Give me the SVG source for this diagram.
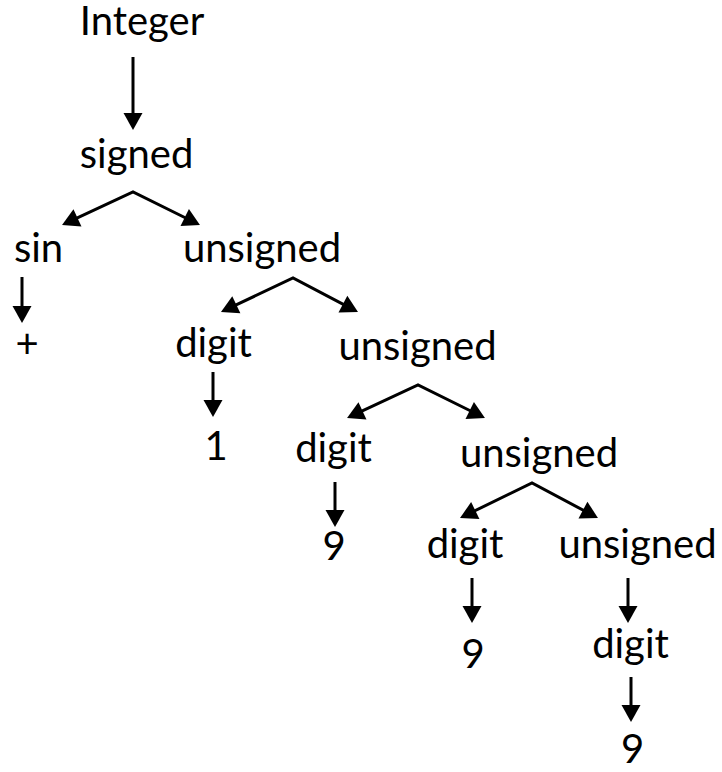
<svg xmlns="http://www.w3.org/2000/svg" width="722" height="772" viewBox="0 0 722 772">
<style>
text{font-family:Lato,"Open Sans","Liberation Sans",sans-serif;font-size:40px;fill:#000;text-anchor:middle}
.c{fill:none;stroke:#000;stroke-width:3;stroke-linejoin:miter;marker-end:url(#ah)}
.f{marker-start:url(#ah)}
</style>
<defs>
<marker id="ah" markerUnits="userSpaceOnUse" viewBox="-10 -10 20 20" markerWidth="20" markerHeight="20" refX="0" refY="0" orient="auto-start-reverse" overflow="visible">
<path d="M8,0 L-9,-9.5 L-9,9.5 Z" fill="#000"/>
</marker>
</defs>
<rect width="722" height="772" fill="#fff"/>
<g id="connectors">
<path class="c" d="M133,57 V122"/>
<path class="c f" d="M69.3,221.6 L133,192 L192.8,221.5"/>
<path class="c" d="M22,277 V315"/>
<path class="c f" d="M228.2,308.6 L293,278 L350.9,308.3"/>
<path class="c" d="M213,372 V409"/>
<path class="c f" d="M354.3,414.6 L418,385 L477.8,414.5"/>
<path class="c" d="M335,482 V519"/>
<path class="c f" d="M467.2,514.5 L532,483 L590.9,514.3"/>
<path class="c" d="M472,578 V615"/>
<path class="c" d="M628,578 V615"/>
<path class="c" d="M631,677 V714"/>
</g>
<g id="n-integer"><text x="142" y="35">Integer</text></g>
<g id="n-signed"><text x="136.5" y="168">signed</text></g>
<g id="n-sin"><text x="38.5" y="262">sin</text></g>
<g id="n-plus"><text x="27" y="358">+</text></g>
<g id="n-unsigned1"><text x="262" y="262">unsigned</text></g>
<g id="n-digit1"><text x="213.5" y="357">digit</text></g>
<g id="n-one"><text x="216" y="460">1</text></g>
<g id="n-unsigned2"><text x="417.5" y="360">unsigned</text></g>
<g id="n-digit2"><text x="333.5" y="462">digit</text></g>
<g id="n-nine1"><text x="334" y="560">9</text></g>
<g id="n-unsigned3"><text x="539" y="467">unsigned</text></g>
<g id="n-digit3"><text x="465" y="558">digit</text></g>
<g id="n-nine2"><text x="473" y="668">9</text></g>
<g id="n-unsigned4"><text x="637.5" y="558">unsigned</text></g>
<g id="n-digit4"><text x="630.5" y="658">digit</text></g>
<g id="n-nine3"><text x="632.5" y="763">9</text></g>
</svg>
